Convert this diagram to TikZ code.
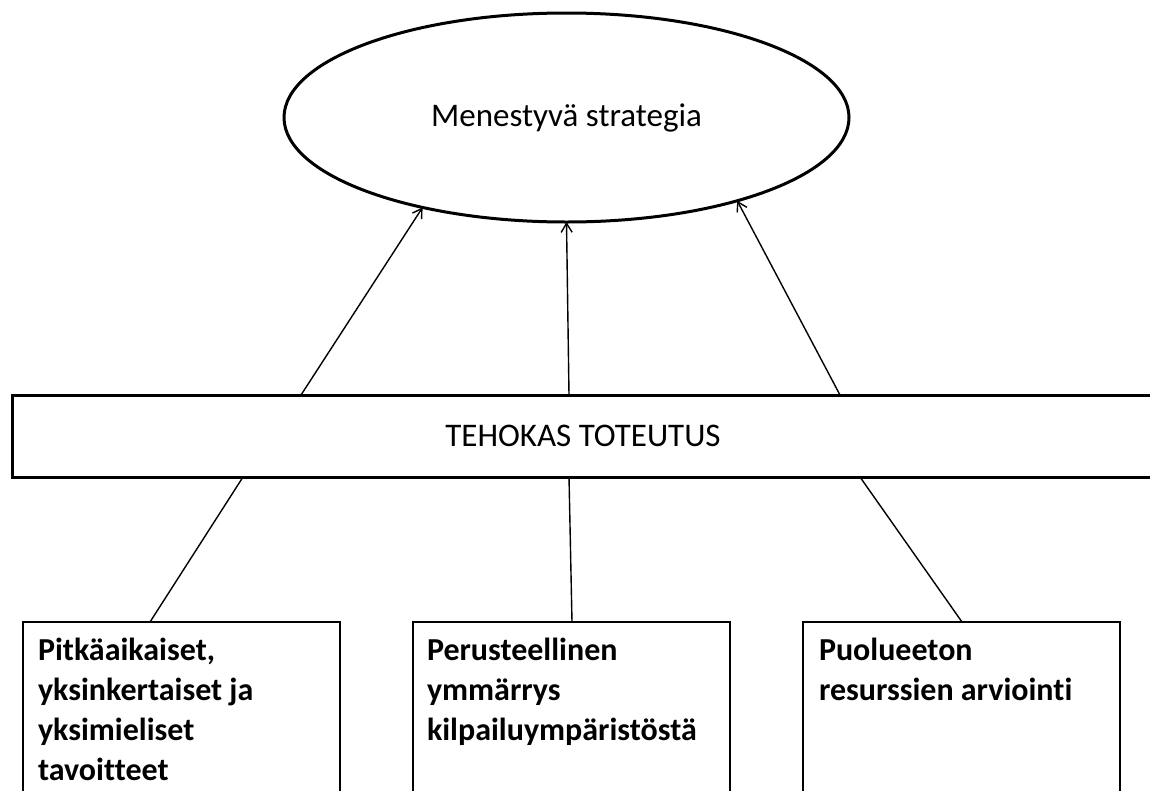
\documentclass[tikz,border=0pt]{standalone}
\usepackage{fontspec}
\setmainfont{Carlito}[Ligatures=NoCommon]
\usetikzlibrary{shapes.geometric,arrows.meta}
\begin{document}
\begin{tikzpicture}[x=1pt,y=-1pt,
  every node/.style={outer sep=0pt},
  conn/.style={line width=1.4pt},
  arr/.style={conn,-{Straight Barb[length=9pt,width=11pt]}},
  heavy/.style={draw, line width=3pt},
  itembox/.style={draw, line width=2pt, minimum width=317pt, minimum height=200pt, anchor=north west, inner sep=0pt},
  itemtext/.style={anchor=north west, inner sep=0pt, align=left, font=\fontsize{32}{40}\selectfont\bfseries},
  bigtext/.style={font=\fontsize{33}{40}\selectfont}]
\useasboundingbox (0,0) rectangle (1150,790);
\clip (0,0) rectangle (1150,790);
\node[heavy, ellipse, minimum width=565pt, minimum height=209pt, inner sep=0pt, bigtext] (goal) at (566.5,117.5) {Menestyvä strategia};
\node[heavy, rectangle, minimum width=1142pt, minimum height=82pt, anchor=north west, inner sep=0pt, bigtext] (bar) at (12,395) {TEHOKAS TOTEUTUS};
\node[itembox] (b1) at (23,622) {};
\node[itembox] (b2) at (413,622) {};
\node[itembox] (b3) at (803,622) {};
\node[itemtext] (t1) at (38,638) {Pitkäaikaiset,\\yksinkertaiset ja\\yksimieliset\\tavoitteet};
\node[itemtext] (t2) at (427,638) {Perusteellinen\\ymmärrys\\kilpailuympäristöstä};
\node[itemtext] (t3) at (819,638) {Puolueeton\\resurssien arviointi};
\draw[conn] ([xshift=127pt]b1.north west) -- ([xshift=231pt]bar.south west);
\draw[arr] ([xshift=289pt]bar.north west) -- (goal.212.8);
\draw[conn] ([xshift=159pt]b2.north west) -- ([xshift=557pt]bar.south west);
\draw[arr] ([xshift=557pt]bar.north west) -- (goal.270);
\draw[conn] ([xshift=159pt]b3.north west) -- ([xshift=848pt]bar.south west);
\draw[arr] ([xshift=828pt]bar.north west) -- (goal.334.8);
\end{tikzpicture}
\end{document}
